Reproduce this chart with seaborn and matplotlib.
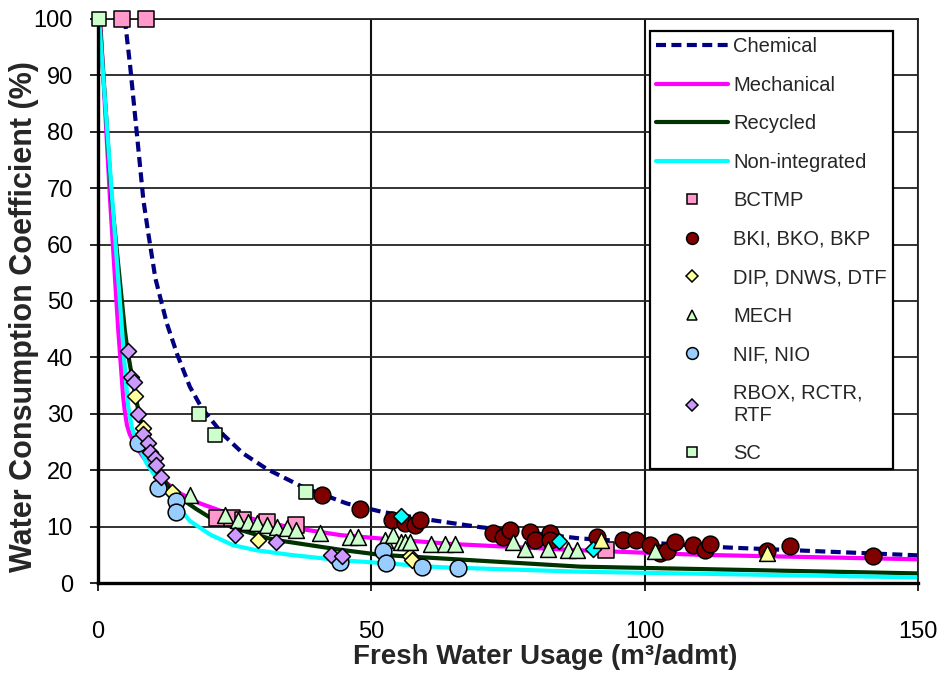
import matplotlib
matplotlib.use("Agg")
import matplotlib.pyplot as plt
from matplotlib.lines import Line2D
import seaborn as sns
import pandas as pd

# ---------------- data ----------------
chem_x = [4.9, 5.9, 6.5, 7.4, 8.3, 9.2, 10.5, 12.6, 14.5, 16.8, 19.0, 22.9, 26.5, 30.9, 37.5,
          45.5, 52.0, 60.7, 69.9, 88.2, 115.0, 150.0]
chem_y = [100, 91.5, 85.6, 76.8, 67.9, 62.0, 54.0, 46.0, 40.5, 34.8, 31.0, 26.3, 23.0, 20.2, 17.0,
          14.1, 12.6, 11.2, 9.9, 7.9, 6.3, 4.9]

mech_x = [0.4, 2.2, 3.7, 4.6, 4.9, 5.3, 5.8, 6.4, 7.1, 9.5, 12.6, 15.0, 18.7, 23.0, 29.0,
          35.0, 44.3, 51.6, 65.0, 88.2, 110.0, 150.0]
mech_y = [100, 68, 44.9, 33.0, 30.5, 28.0, 26.4, 25.2, 24.0, 20.6, 17.7, 15.9, 14.1, 12.6, 11.2,
          9.9, 8.5, 7.9, 6.9, 5.8, 5.0, 4.2]

rec_x = [0.3, 2.5, 4.9, 5.4, 6.5, 7.4, 8.3, 9.5, 11.6, 13.5, 15.6, 18.0, 20.5, 25.0, 32.0,
         44.3, 51.6, 88.2, 150.0]
rec_y = [100, 68, 44.9, 41.2, 35.0, 30.5, 26.8, 23.3, 18.8, 16.5, 14.7, 13.1, 11.6, 9.7, 7.7,
         5.9, 5.0, 2.9, 1.7]

nonint_x = [0.2, 2.6, 4.4, 5.0, 5.5, 6.2, 7.4, 8.9, 12.6, 16.8, 20.5, 24.7, 29.0, 35.1,
            43.7, 62.6, 88.2, 150.0]
nonint_y = [100, 68, 44.9, 37.0, 31.5, 27.5, 24.5, 21.2, 15.9, 11.0, 8.6, 6.7, 5.8, 5.0,
            4.1, 2.8, 2.0, 1.0]

bctmp_x = [4.3, 8.8, 21.7, 24.5, 26.5, 30.9, 36.3, 92.9]
bctmp_y = [100, 100, 11.6, 11.5, 11.2, 10.9, 10.2, 5.9]

bki_x = [40.9, 47.9, 53.7, 56.2, 58.0, 58.9, 72.3, 74.1, 75.4, 79.0, 79.9, 82.7, 82.7,
         91.2, 96.1, 98.5, 101.0, 102.8, 104.0, 105.5, 108.9, 111.1, 111.9, 122.4, 126.5, 141.8]
bki_y = [15.6, 13.2, 11.2, 10.6, 10.3, 11.2, 8.8, 8.2, 9.4, 9.1, 7.6, 8.8, 7.6,
         8.2, 7.6, 7.6, 6.7, 5.3, 5.6, 7.3, 6.7, 5.85, 7.0, 5.6, 6.6, 4.8]

dip_x = [6.8, 8.3, 13.5, 29.3, 57.1, 57.4]
dip_y = [33.2, 27.4, 16.2, 7.7, 4.7, 4.1]

mechpt_x = [16.8, 23.2, 25.7, 27.5, 29.0, 30.9, 32.7, 34.5, 36.3, 40.6, 46.1, 47.6, 52.5, 54.0,
            55.5, 56.2, 57.1, 61.0, 63.5, 65.3, 76.0, 78.1, 82.4, 86.0, 87.6, 101.9]
mechpt_y = [15.6, 12.1, 11.2, 10.9, 10.6, 10.3, 10.0, 9.7, 9.4, 8.8, 8.2, 8.2, 7.6, 8.5,
            7.3, 7.3, 7.3, 7.0, 7.0, 7.0, 7.3, 6.1, 6.1, 5.85, 5.85, 5.6]

nif_x = [7.4, 11.0, 14.3, 14.3, 44.3, 52.1, 52.7, 59.2, 65.9]
nif_y = [24.8, 16.8, 14.6, 12.6, 3.8, 5.6, 3.5, 2.9, 2.6]

rbox_x = [5.4, 6.0, 6.5, 7.4, 8.3, 9.2, 9.5, 10.4, 10.7, 11.6, 25.1, 32.5, 42.7, 44.6]
rbox_y = [41.2, 36.6, 35.7, 30.0, 26.5, 24.8, 23.3, 22.1, 20.9, 18.8, 8.5, 7.3, 5.0, 4.7]

sc_x = [0.2, 18.5, 21.4, 38.0]
sc_y = [100, 30.0, 26.2, 16.2]

cyandia_x = [55.5, 84.4, 90.6]
cyandia_y = [11.9, 7.5, 6.1]

yeltri_x = [92.1, 122.4]
yeltri_y = [7.7, 5.4]

x_ticks = [0, 50, 100, 150]
y_ticks = [0, 10, 20, 30, 40, 50, 60, 70, 80, 90, 100]

# ---------------- style ----------------
sns.set_style("white")
plt.rcParams['font.family'] = ['Liberation Sans', 'DejaVu Sans']

fig = plt.figure(figsize=(9.44, 6.79), dpi=100)
ax = fig.add_axes([98/944, 1 - 583/679, 820/944, 564/679])

# curves
curves = [
    ("Chemical", chem_x, chem_y, "#000080", (0, (2.4, 1.3))),
    ("Mechanical", mech_x, mech_y, "#FF00FF", "-"),
    ("Recycled", rec_x, rec_y, "#003300", "-"),
    ("Non-integrated", nonint_x, nonint_y, "#00FFFF", "-"),
]
for name, xs, ys, col, ls in curves:
    df = pd.DataFrame({"x": xs, "y": ys})
    sns.lineplot(data=df, x="x", y="y", ax=ax, color=col, lw=3.0,
                 linestyle=ls, sort=False, estimator=None, zorder=2, legend=False)
for ln in ax.get_lines():
    ln.set_solid_joinstyle("round")
    ln.set_dash_joinstyle("round")

# markers
series = [
    ("BCTMP", bctmp_x, bctmp_y, "s", "#FF99CC", 120),
    ("BKI, BKO, BKP", bki_x, bki_y, "o", "#800000", 145),
    ("DIP, DNWS, DTF", dip_x, dip_y, "D", "#FFFF99", 66),
    ("MECH", mechpt_x, mechpt_y, "^", "#CCFFCC", 130),
    ("NIF, NIO", nif_x, nif_y, "o", "#99CCFF", 145),
    ("RBOX, RCTR,\nRTF", rbox_x, rbox_y, "D", "#CC99FF", 66),
    ("SC", sc_x, sc_y, "s", "#CCFFCC", 115),
    (None, cyandia_x, cyandia_y, "D", "#00FFFF", 66),
    (None, yeltri_x, yeltri_y, "^", "#FFFF99", 130),
]
for i, (name, xs, ys, mk, col, s) in enumerate(series):
    df = pd.DataFrame({"x": xs, "y": ys})
    sns.scatterplot(data=df, x="x", y="y", ax=ax, marker=mk, color=col, s=s,
                    edgecolor="black", linewidth=1.1, zorder=3 + i * 0.01,
                    clip_on=False, legend=False)

# axes
ax.set_xlim(0, 150)
ax.set_ylim(0, 100)
ax.set_xticks(x_ticks)
ax.set_yticks(y_ticks)
ax.set_xticklabels([str(v) for v in x_ticks])
ax.set_yticklabels([str(v) for v in y_ticks])
ax.yaxis.grid(True, color="#222222", lw=1.3, zorder=0)
ax.xaxis.grid(True, color="#111111", lw=1.5, zorder=0)
ax.set_axisbelow(True)
for side in ["left", "bottom"]:
    ax.spines[side].set_linewidth(2.4)
    ax.spines[side].set_color("black")
for side in ["top", "right"]:
    ax.spines[side].set_linewidth(1.3)
    ax.spines[side].set_color("#222222")
ax.tick_params(axis="both", direction="out", length=6, width=1.2, color="black",
               labelsize=17, labelcolor="black", left=True, bottom=True)
ax.tick_params(axis="x", pad=21)
ax.tick_params(axis="y", pad=12)

ax.set_xlabel("Fresh Water Usage (m³/admt)", fontsize=20, fontweight="bold")
ax.set_ylabel("Water Consumption Coefficient (%)", fontsize=22, fontweight="bold")
ax.xaxis.set_label_coords(0.545, -0.108)
ax.yaxis.set_label_coords(-0.072, 0.472)

# legend
handles = []
labels = []
for name, xs, ys, col, ls in curves:
    handles.append(Line2D([0], [0], color=col, lw=3.0, linestyle=ls))
    labels.append(name)
leg_sizes = {"s": 7.5, "o": 8.5, "D": 6, "^": 7.5}
for name, xs, ys, mk, col, s in series:
    if name is None:
        continue
    handles.append(Line2D([0], [0], marker=mk, color="none", markerfacecolor=col,
                          markeredgecolor="black", markeredgewidth=1.1,
                          markersize=leg_sizes[mk], linestyle="none"))
    labels.append(name)
leg = ax.legend(handles, labels, loc="upper right", bbox_to_anchor=(0.9695, 0.9787),
                borderaxespad=0, fontsize=14.5, frameon=True, fancybox=False,
                framealpha=1, edgecolor="black", handlelength=3.6,
                handletextpad=0.25, labelspacing=0.97, borderpad=0.3)
leg.get_frame().set_linewidth(1.6)
leg.set_zorder(10)

fig.savefig("out.png", dpi=100)
